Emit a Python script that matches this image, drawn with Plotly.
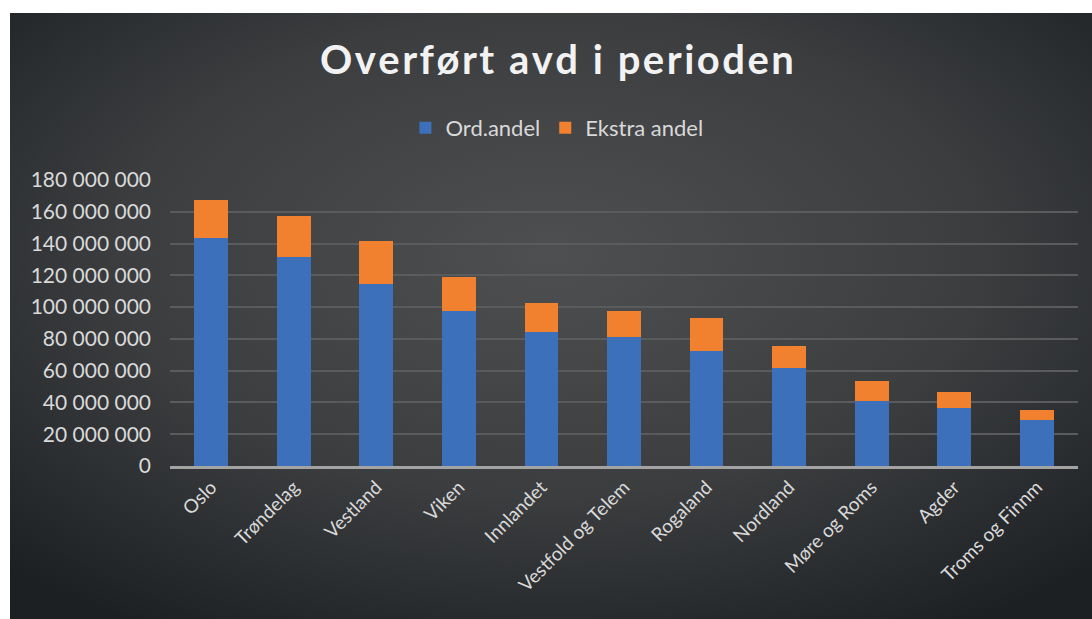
import base64
import plotly.graph_objects as go

# Data
regions = ["Oslo", "Trøndelag", "Vestland", "Viken", "Innlandet", "Vestfold og Telem",
           "Rogaland", "Nordland", "Møre og Roms", "Agder", "Troms og Finnm"]
ord_andel = [143_500_000, 131_300_000, 114_500_000, 97_500_000, 84_300_000, 81_200_000,
             72_400_000, 61_700_000, 40_900_000, 36_700_000, 29_100_000]
totals = [167_400_000, 157_300_000, 141_600_000, 118_900_000, 102_600_000, 97_500_000,
          93_100_000, 75_500_000, 53_500_000, 46_600_000, 35_200_000]
ekstra_andel = [t - o for t, o in zip(totals, ord_andel)]
y_ticks = list(range(0, 180_000_001, 20_000_000))

W, H = 1092, 619
TEXT = "#d9d9d9"
FONT = "Lato"


def spaced(text, sep="\u200a"):
    # Excel title uses expanded character spacing
    return sep.join(text)


# Radial gradient background as an inline SVG
svg = (
    '<svg xmlns="http://www.w3.org/2000/svg" width="1082" height="606">'
    '<defs><radialGradient id="g" cx="0.5" cy="0.4" r="0.72">'
    '<stop offset="0" stop-color="#4e4f51"/>'
    '<stop offset="0.55" stop-color="#3b3d3f"/>'
    '<stop offset="1" stop-color="#1d2023"/>'
    '</radialGradient></defs>'
    '<rect width="1082" height="606" fill="url(#g)"/></svg>'
)
bg_src = "data:image/svg+xml;base64," + base64.b64encode(svg.encode()).decode()

fig = go.Figure()

fig.add_trace(go.Bar(
    x=regions,
    y=ord_andel,
    name="Ord.andel",
    marker=dict(color="#3c70ba", line=dict(width=0)),
))
fig.add_trace(go.Bar(
    x=regions,
    y=ekstra_andel,
    name="Ekstra andel",
    marker=dict(color="#f1802f", line=dict(width=0)),
))

fig.update_layout(
    width=W,
    height=H,
    barmode="stack",
    bargap=0.59,
    paper_bgcolor="#2e3033",
    plot_bgcolor="rgba(0,0,0,0)",
    margin=dict(l=0, r=0, t=0, b=0, pad=0),
    font=dict(family=FONT, color=TEXT),
    separators=", ",
    title=dict(
        text="<b>" + spaced("Overført avd i perioden") + "</b>",
        x=0.51,
        xanchor="center",
        y=1 - 60 / H,
        yanchor="middle",
        font=dict(family=FONT, size=40, color="#f2f2f2"),
    ),
    legend=dict(
        orientation="h",
        x=0.51,
        xanchor="center",
        y=1 - 128 / H,
        yanchor="middle",
        font=dict(family=FONT, size=22, color=TEXT),
        bgcolor="rgba(0,0,0,0)",
        traceorder="normal",
    ),
    images=[dict(
        source=bg_src,
        xref="paper", yref="paper",
        x=10 / W, y=1 - 13 / H,
        sizex=1 - 10 / W, sizey=1 - 13 / H,
        xanchor="left", yanchor="top",
        sizing="stretch",
        layer="below",
    )],
    # white page border above and left of the chart area
    shapes=[
        dict(type="rect", xref="paper", yref="paper", x0=0, x1=1, y0=1 - 13 / H, y1=1,
             fillcolor="white", line=dict(width=0), layer="below"),
        dict(type="rect", xref="paper", yref="paper", x0=0, x1=10 / W, y0=0, y1=1,
             fillcolor="white", line=dict(width=0), layer="below"),
    ],
)

fig.update_xaxes(
    domain=[170 / W, 1078 / W],
    automargin=False,
    tickangle=-45,
    tickfont=dict(family=FONT, size=19, color=TEXT),
    showgrid=False,
    showline=True,
    linecolor="#a3a3a3",
    linewidth=2.5,
    ticks="",
    ticklabelstandoff=0,
)
fig.update_yaxes(
    domain=[1 - 466 / H, 1 - 180 / H],
    automargin=False,
    range=[0, 180_000_000],
    tickvals=y_ticks,
    tickformat=",d",
    tickfont=dict(family=FONT, size=21, color=TEXT),
    showgrid=True,
    gridcolor="#5a5b5d",
    gridwidth=1.5,
    zeroline=False,
    showline=False,
    ticks="",
    ticklabelstandoff=18,
)

fig.write_html(
    "out.html",
    config={"displayModeBar": False},
    post_script="document.body.style.margin='0';",
)
